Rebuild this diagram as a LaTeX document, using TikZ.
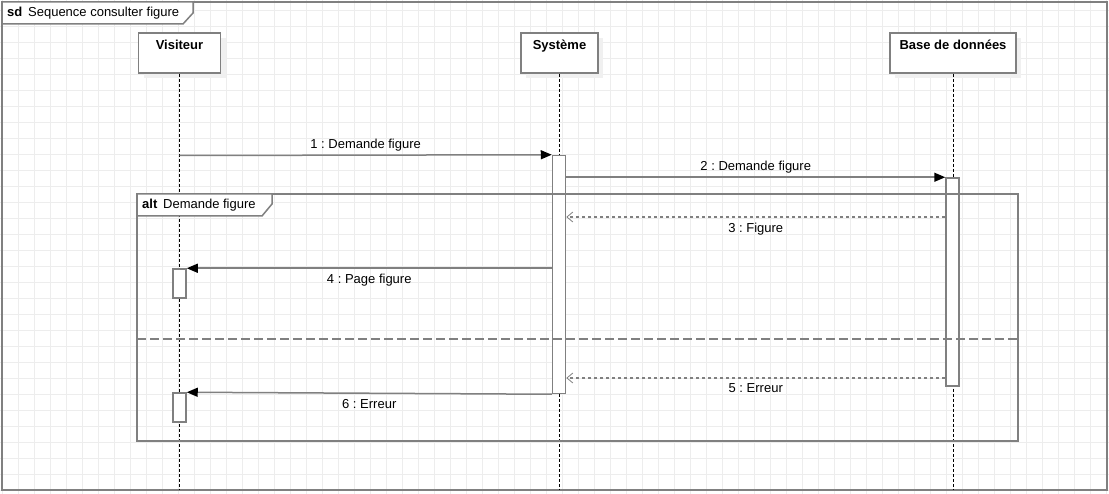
\documentclass[tikz,border=0pt]{standalone}
\usepackage{fontspec}
\setmainfont{Liberation Sans}
\usetikzlibrary{arrows.meta,shadows}
\frenchspacing

\definecolor{umlgray}{RGB}{128,128,128}

\tikzset{
  gridline/.style={draw=black!7, line width=0.8pt},
  umlframe/.style={draw=umlgray, line width=1.5pt},
  framelabel/.style={font=\fontsize{13}{15}\selectfont, anchor=west, inner sep=0pt},
  headbox/.style={draw=umlgray, fill=white, line width=1.5pt, minimum height=40pt, inner sep=0pt,
    drop shadow={shadow xshift=5pt, shadow yshift=-5pt, fill=black!6, opacity=1}},
  headtext/.style={font=\fontsize{13}{15}\selectfont\bfseries, anchor=north, inner sep=0pt, yshift=-8pt},
  lifeline/.style={draw=black, dash pattern=on 3pt off 2pt, line width=0.9pt},
  actbox/.style={draw=umlgray, fill=white, line width=1.5pt, minimum width=13pt, inner sep=0pt},
  callmsg/.style={draw=umlgray, line width=1.5pt, -{Triangle[length=11pt,width=9pt,color=black]}},
  replymsg/.style={draw=umlgray, line width=1.5pt, dash pattern=on 3pt off 3pt,
    -{Straight Barb[length=6pt,width=10pt,line width=0.8pt]}},
  msglabel/.style={font=\fontsize{13}{15}\selectfont, inner sep=3pt},
  below msg/.style={msglabel, midway, below, yshift=-2pt},
}

\begin{document}
\begin{tikzpicture}[x=1pt, y=-1pt]
  \useasboundingbox (0,0) rectangle (1109,494);

  % background grid
  \foreach \gx in {2,18,...,1106}
    \draw[gridline] (\gx,0) -- (\gx,494);
  \foreach \gy in {10,26,...,490}
    \draw[gridline] (0,\gy) -- (1109,\gy);

  % sd frame
  \draw[umlframe] (2,2) rectangle (1107,490);
  \draw[umlframe, fill=white] (2,2) -- (193,2) -- (193,13) -- (183,24) -- (2,24) -- cycle;
  \node (sdlabel) [framelabel] at (7,13) {\textbf{sd}\, Sequence consulter figure};

  % lifeline heads
  \node (visiteur) [headbox, minimum width=82pt] at (179.5,53) {};
  \node (systeme) [headbox, minimum width=77pt] at (559.5,53) {};
  \node (bdd) [headbox, minimum width=126pt] at (953,53) {};
  \node (visiteurtxt) [headtext] at (visiteur.north) {Visiteur};
  \node (systemetxt) [headtext] at (systeme.north) {Système};
  \node (bddtxt) [headtext] at (bdd.north) {Base de données};

  \coordinate (visend) at (179.5,490);
  \coordinate (sysend) at (559,490);
  \coordinate (bddend) at (953,490);
  \draw[lifeline] (visiteur.south) -- (visend);
  \draw[lifeline] (systeme.south -| sysend) -- (sysend);
  \draw[lifeline] (bdd.south) -- (bddend);

  % activations
  \node (sysact) [actbox, minimum height=238pt] at (559,274.5) {};
  \node (bddact) [actbox, minimum height=208pt] at (952.5,282) {};
  \node (visact1) [actbox, minimum height=29pt] at (179.5,283.5) {};
  \node (visact2) [actbox, minimum height=29pt] at (179.5,407.5) {};

  % alt fragment
  \draw[umlframe] (137,194) rectangle (1018,441);
  \draw[umlframe, fill=white] (137,194) -- (272,194) -- (272,204) -- (262,216) -- (137,216) -- cycle;
  \node (altlabel) [framelabel] at (142,205) {\textbf{alt}\, Demande figure};
  \draw[umlframe, dash pattern=on 9pt off 4pt] (137,339) -- (1018,339);

  % messages
  \coordinate (m1) at (179.5,155.5);
  \draw[callmsg] (m1) -- (sysact.north west)
    node (m1label) [msglabel, midway, above] {1 : Demande figure};
  \draw[callmsg] (sysact.east |- bddact.north) -- (bddact.north west)
    node (m2label) [msglabel, midway, above] {2 : Demande figure};
  \draw[replymsg] (bddact.west |- 0,217) -- (sysact.east |- 0,217)
    node (m3label) [below msg] {3 : Figure};
  \draw[callmsg] (sysact.west |- visact1.north) -- (visact1.north east)
    node (m4label) [below msg] {4 : Page figure};
  \draw[replymsg] (bddact.west |- 0,378) -- (sysact.east |- 0,378)
    node (m5label) [below msg] {5 : Erreur};
  \draw[callmsg] (sysact.south west) -- (visact2.north east)
    node (m6label) [below msg] {6 : Erreur};
\end{tikzpicture}
\end{document}
